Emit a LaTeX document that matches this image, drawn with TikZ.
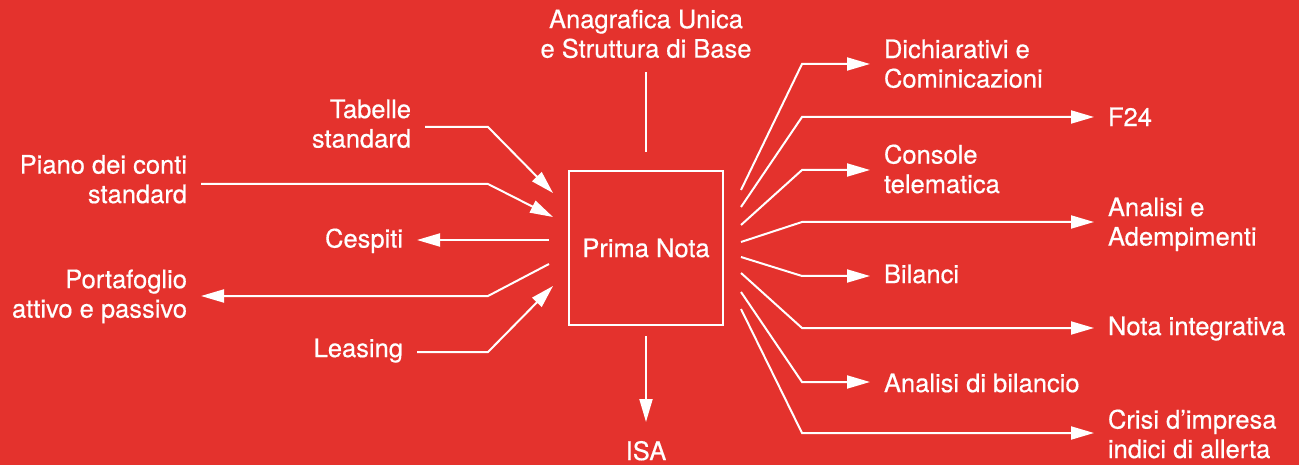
\documentclass[tikz,border=0pt]{standalone}
\usepackage{fontspec}
\setmainfont{TeX Gyre Heros}
\newfontfamily\labelfont[FakeBold=0.5]{TeX Gyre Heros}
\usetikzlibrary{positioning,arrows.meta}
\definecolor{bgred}{RGB}{228,50,45}

\begin{document}
\begin{tikzpicture}[
            x=1pt,y=-1pt,
            line width=2pt,draw=white,
            label/.style={text=white, inner sep=0pt, outer xsep=14pt, outer ysep=0pt, font=\labelfont\fontsize{25.5}{29.5}\selectfont},
            boxnode/.style={rectangle, draw=white, line width=2pt, minimum size=154pt, inner sep=0pt, text=white, font=\labelfont\fontsize{25.5}{29.5}\selectfont},
            flow/.style={-{Triangle[length=23pt,width=13pt]}, white, line width=2pt},
            plain/.style={white, line width=2pt},
            ]
            \fill[bgred] (0,0) rectangle (1299,465);
            \useasboundingbox (0,0) rectangle (1299,465);

            % Nodes
            \node[boxnode] (prima) at (646,248) {Prima Nota};
            \node[label,align=center,anchor=north] (anag) at (646,9.5) {Anagrafica Unica\\e Struttura di Base};
            \node[label,anchor=north] (isa) at (646,441) {ISA};

            \node[label,align=right,anchor=north east] (tabelle) at (425,99.5) {Tabelle\\standard};
            \node[label,align=right,anchor=north east] (piano) at (201,155) {Piano dei conti\\standard};
            \node[label,anchor=north east] (cespiti) at (417,228.5) {Cespiti};
            \node[label,align=right,anchor=north east] (portaf) at (201,269.5) {Portafoglio\\attivo e passivo};
            \node[label,anchor=north east] (leasing) at (417,338.5) {Leasing};

            \node[label,align=left,anchor=north west] (dichiar) at (870,39.5) {Dichiarativi e\\Cominicazioni};
            \node[label,anchor=north west] (f24) at (1094,107.5) {F24};
            \node[label,align=left,anchor=north west] (console) at (870,144.5) {Console\\telematica};
            \node[label,align=left,anchor=north west] (adempi) at (1094,197.5) {Analisi e\\Adempimenti};
            \node[label,anchor=north west] (bilanci) at (870,264.5) {Bilanci};
            \node[label,anchor=north west] (notaint) at (1094,316.5) {Nota integrativa};
            \node[label,anchor=north west] (analbil) at (870,373.5) {Analisi di bilancio};
            \node[label,align=left,anchor=north west] (crisi) at (1094,409.5) {Crisi d’impresa\\indici di allerta};

            % Bends and free ends
            \coordinate (topend) at (646,152);
            \coordinate (tabbend) at (488,127);   \coordinate (tabin) at (553,193);
            \coordinate (piabend) at (488,184);   \coordinate (piain) at (553,217);
            \coordinate (cesout) at (549,240);
            \coordinate (porout) at (549,264);    \coordinate (porbend) at (488,296);
            \coordinate (leabend) at (488,352);   \coordinate (leain) at (553,286);

            \coordinate (dicout) at (741,190);    \coordinate (dicbend) at (802,64);
            \coordinate (f24out) at (741,207);    \coordinate (f24bend) at (802,117);
            \coordinate (conout) at (741,225);    \coordinate (conbend) at (802,170);
            \coordinate (ademout) at (741,242);   \coordinate (adembend) at (802,222);
            \coordinate (bilout) at (741,257);    \coordinate (bilbend) at (802,276);
            \coordinate (notout) at (741,273);    \coordinate (notbend) at (802,328);
            \coordinate (anbout) at (741,292);    \coordinate (anbbend) at (802,382);
            \coordinate (crisout) at (741,309);   \coordinate (crisbend) at (802,433);

            % Lines
            \draw[plain, shorten <=14pt] (anag) -- (topend);
            \draw[flow, shorten <=10pt, shorten >=19pt] (prima) -- (isa);

            \draw[flow] (tabelle.east |- tabbend) -- (tabbend) -- (tabin);
            \draw[flow] (piano.east |- piabend) -- (piabend) -- (piain);
            \draw[flow] (cesout) -- (cespiti.east |- cesout);
            \draw[flow] (porout) -- (porbend) -- (portaf.east |- porbend);
            \draw[flow] (leasing.east |- leabend) -- (leabend) -- (leain);

            \draw[flow] (dicout) -- (dicbend) -- (dichiar.west |- dicbend);
            \draw[flow] (f24out) -- (f24bend) -- (f24.west |- f24bend);
            \draw[flow] (conout) -- (conbend) -- (console.west |- conbend);
            \draw[flow] (ademout) -- (adembend) -- (adempi.west |- adembend);
            \draw[flow] (bilout) -- (bilbend) -- (bilanci.west |- bilbend);
            \draw[flow] (notout) -- (notbend) -- (notaint.west |- notbend);
            \draw[flow] (anbout) -- (anbbend) -- (analbil.west |- anbbend);
            \draw[flow] (crisout) -- (crisbend) -- (crisi.west |- crisbend);
        \end{tikzpicture}
\end{document}
